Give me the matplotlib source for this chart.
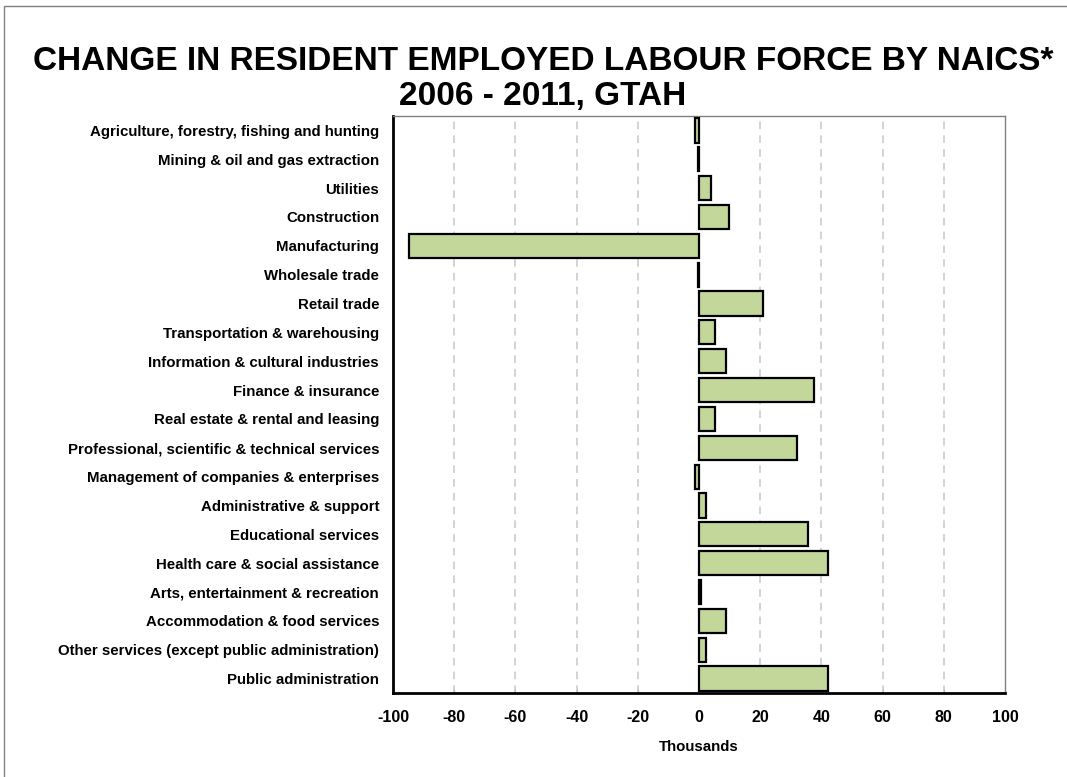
import matplotlib
matplotlib.use("Agg")
import matplotlib.pyplot as plt
from matplotlib.patches import Rectangle

plt.rcParams['font.family'] = ['Liberation Sans', 'DejaVu Sans']

# 行业类别（从上到下）
categories = [
    "Agriculture, forestry, fishing and hunting",
    "Mining & oil and gas extraction",
    "Utilities",
    "Construction",
    "Manufacturing",
    "Wholesale trade",
    "Retail trade",
    "Transportation & warehousing",
    "Information & cultural industries",
    "Finance & insurance",
    "Real estate & rental and leasing",
    "Professional, scientific & technical services",
    "Management of companies & enterprises",
    "Administrative & support",
    "Educational services",
    "Health care & social assistance",
    "Arts, entertainment & recreation",
    "Accommodation & food services",
    "Other services (except public administration)",
    "Public administration",
]
# 变化值（千人）
change = [-1.3, -0.3, 4.0, 9.8, -94.8, -0.3, 20.9, 5.3, 8.9, 37.6,
          5.3, 31.9, -1.3, 2.3, 35.5, 42.0, 0.6, 8.9, 2.3, 42.3]
xticks = [-100, -80, -60, -40, -20, 0, 20, 40, 60, 80, 100]

fig = plt.figure(figsize=(10.67, 7.77), dpi=100)
ax = fig.add_axes([393/1067, 1-693/777, (1005-393)/1067, (693-116)/777])

y = list(range(len(categories)))
ax.barh(y, change, height=0.84, color="#c4d79b", edgecolor="black", linewidth=1.6, zorder=3)

ax.set_xlim(-100, 100)
ax.set_ylim(len(categories)-0.5, -0.5)
ax.set_yticks(y)
ax.set_yticklabels(categories, fontsize=10.8, fontweight="bold")
ax.set_xticks(xticks)
ax.set_xticklabels([str(t) for t in xticks], fontsize=11.5, fontweight="bold")
ax.tick_params(axis="y", length=0, pad=10)
ax.tick_params(axis="x", direction="in", length=3, color="#bbbbbb", pad=12)
ax.set_xlabel("Thousands", fontsize=10.8, fontweight="bold", labelpad=11)

# 网格线
for t in xticks[1:-1]:
    if t != 0:
        ax.axvline(t, color="#c8c8c8", linestyle=(0, (5, 4)), linewidth=1.1, zorder=1)

ax.spines["left"].set_linewidth(2)
ax.spines["bottom"].set_linewidth(2)
ax.spines["top"].set_color("#808080")
ax.spines["right"].set_color("#808080")
ax.spines["top"].set_linewidth(1)
ax.spines["right"].set_linewidth(1)

fig.text(543/1067, 1-62/777, "CHANGE IN RESIDENT EMPLOYED LABOUR FORCE BY NAICS*",
         ha="center", va="center", fontsize=24, fontweight="bold")
fig.text(543/1067, 1-96/777, "2006 - 2011, GTAH",
         ha="center", va="center", fontsize=24, fontweight="bold")

# 外框
fig.patches.append(Rectangle((4/1067, -0.05), 1.2, 1-6/777+0.05, transform=fig.transFigure,
                             fill=False, edgecolor="#808080", linewidth=1))

fig.savefig("out.png", dpi=100)
